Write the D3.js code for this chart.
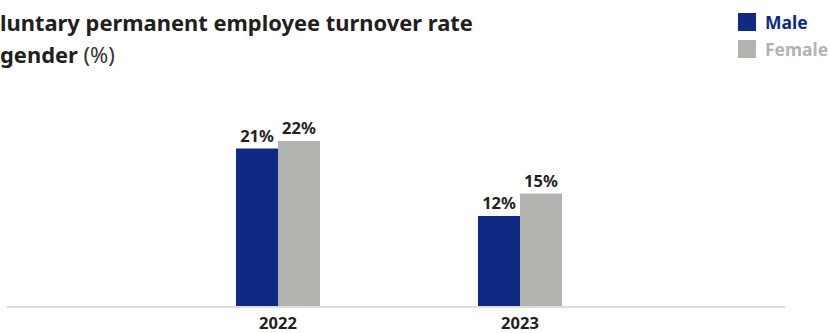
<!DOCTYPE html>
<html><head><meta charset="utf-8">
<script src="https://cdn.jsdelivr.net/npm/d3@7"></script>
<style>
html,body{margin:0;padding:0;background:#fff;overflow:hidden}
svg{display:block}
text{font-family:"Noto Sans","Open Sans",sans-serif}
</style></head>
<body>
<script>
const years = ["2022", "2023"];
const seriesNames = ["Male", "Female"];
const maleValues = [21, 12];
const femaleValues = [22, 15];
const titleLine1 = "Voluntary permanent employee turnover rate";
const titleLine2Bold = "by gender";
const titleLine2Unit = " (%)";
const clippedPrefix1 = "Vo";
const clippedPrefix2 = "by ";

const colors = {Male: "#0e2a83", Female: "#b3b3af"};
const W = 830, H = 333;
const svg = d3.select("body").append("svg").attr("width", W).attr("height", H);

const data = years.map((y, i) => ({year: y, Male: maleValues[i], Female: femaleValues[i]}));

const baseline = 306;
const y = d3.scaleLinear().domain([0, 22]).range([baseline, 141]);
const x0 = d3.scalePoint().domain(years).range([278, 520]);
const x1 = d3.scaleBand().domain(seriesNames).range([-42, 42]);

// axis line
const xAxis = d3.axisBottom(d3.scaleBand().domain(years).range([7, 785])).tickSize(0).tickFormat("");
svg.append("g").attr("transform", `translate(0,${baseline})`).call(xAxis)
  .call(g => g.select(".domain").attr("stroke", "#dcdcdc").attr("stroke-width", 2).attr("d", "M7,1H785"));

const groups = svg.selectAll("g.grp").data(data).join("g").attr("class", "grp")
  .attr("transform", d => `translate(${x0(d.year)},0)`);

groups.selectAll("rect").data(d => seriesNames.map(k => ({k, v: d[k]}))).join("rect")
  .attr("x", d => x1(d.k)).attr("width", x1.bandwidth())
  .attr("y", d => y(d.v)).attr("height", d => baseline - y(d.v))
  .attr("fill", d => colors[d.k]);

groups.selectAll("text.val").data(d => seriesNames.map(k => ({k, v: d[k]}))).join("text")
  .attr("class", "val")
  .attr("x", d => x1(d.k) + x1.bandwidth() / 2).attr("y", d => y(d.v) - 7)
  .attr("text-anchor", "middle").attr("font-size", 16.5).attr("font-weight", 700).attr("fill", "#231f20")
  .text(d => d.v + "%");

// year labels
svg.selectAll("text.yr").data(years).join("text").attr("class", "yr")
  .attr("x", d => x0(d)).attr("y", 328.5)
  .attr("text-anchor", "middle").attr("font-size", 16.5).attr("font-weight", 700).attr("fill", "#231f20")
  .text(d => d);

// title (clipped on the left as in the reference)
function measure(str, size, weight) {
  const t = svg.append("text").attr("font-size", size).attr("font-weight", weight)
    .style("white-space", "pre").text(str);
  const w = t.node().getComputedTextLength(); t.remove(); return w;
}
const tSize = 21.9;
const off1 = measure(clippedPrefix1, tSize, 700);
const off2 = measure(clippedPrefix2, tSize, 700);
svg.append("text").attr("x", -off1).attr("y", 31).attr("font-size", tSize).attr("font-weight", 700).attr("fill", "#231f20").text(titleLine1);
const t2 = svg.append("text").attr("x", -off2).attr("y", 63).attr("font-size", tSize).attr("fill", "#231f20")
  .style("white-space", "pre");
t2.append("tspan").attr("font-weight", 700).text(titleLine2Bold);
t2.append("tspan").attr("font-weight", 400).attr("fill", "#333").text(titleLine2Unit);

// legend
const leg = svg.selectAll("g.leg").data(seriesNames).join("g").attr("class", "leg")
  .attr("transform", (d, i) => `translate(738,${13 + i * 27})`);
leg.append("rect").attr("width", 18).attr("height", 18).attr("fill", d => colors[d]);
leg.append("text").attr("x", 27).attr("y", 16).attr("font-size", 17.5).attr("font-weight", 700)
  .attr("fill", d => colors[d]).text(d => d);
</script>
</body></html>
